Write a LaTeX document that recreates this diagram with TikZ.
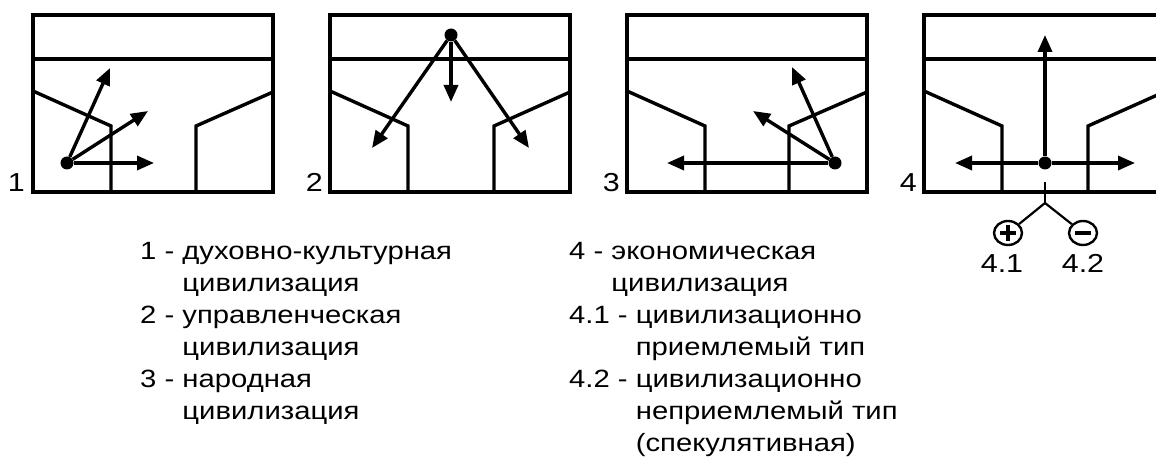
\documentclass[tikz,border=0pt]{standalone}
\usepackage{fontspec}
\setmainfont{Liberation Sans}[FakeStretch=1.17]
\usetikzlibrary{arrows.meta,shapes.geometric}

\begin{document}
\begin{tikzpicture}[x=1pt,y=-1pt,
  frame/.style={line width=3.4pt},
  vec/.style={line width=3.4pt,-{Triangle[length=17pt,width=14pt]}},
  dot/.style={circle,fill,inner sep=0pt,minimum size=13pt},
  num/.style={font=\fontsize{26}{30}\selectfont,inner sep=0pt,anchor=base east},
  sub/.style={font=\fontsize{26}{30}\selectfont,inner sep=0pt,anchor=base},
  entry/.style={font=\fontsize{25}{32}\selectfont,inner sep=0pt,anchor=base west},
  sign/.style={ellipse,draw,line width=2.4pt,minimum width=28pt,minimum height=24pt,inner sep=0pt}]

\fill[white] (0,0) rectangle (1156,457);
\clip (0,0) rectangle (1156,457);

% frame 1
\draw[frame] (33,15) rectangle (273,192);
\draw[frame] (33,59) -- (273,59);
\draw[frame] (33,91) -- (111,126) -- (111,192);
\draw[frame] (273,92) -- (196,126) -- (196,192);
% frame 2
\draw[frame] (330,15) rectangle (570,192);
\draw[frame] (330,59) -- (570,59);
\draw[frame] (330,91) -- (408,126) -- (408,192);
\draw[frame] (570,92) -- (494,126) -- (494,192);
% frame 3
\draw[frame] (627,15) rectangle (867,192);
\draw[frame] (627,59) -- (867,59);
\draw[frame] (627,91) -- (705,126) -- (705,192);
\draw[frame] (867,92) -- (789,126) -- (789,192);
% frame 4
\draw[frame] (924,15) rectangle (1164,192);
\draw[frame] (924,59) -- (1164,59);
\draw[frame] (924,91) -- (1002,126) -- (1002,192);
\draw[frame] (1164,92) -- (1088,126) -- (1088,192);

\node[num] (n1) at (25,192) {1};
\node[num] (n2) at (323,192) {2};
\node[num] (n3) at (620,192) {3};
\node[num] (n4) at (917,192) {4};

% 1
\node[dot] (d1) at (67,163) {};
\coordinate (t11) at (110,68);
\coordinate (t12) at (148,111);
\coordinate (t13) at (154,163);
\draw[vec] (d1) -- (t11);
\draw[vec] (d1) -- (t12);
\draw[vec] (d1) -- (t13);

% 2
\node[dot] (d2) at (451,35) {};
\coordinate (t21) at (372,148);
\coordinate (t22) at (451,102);
\coordinate (t23) at (529,148);
\draw[vec] (d2) -- (t21);
\draw[vec] (d2) -- (t22);
\draw[vec] (d2) -- (t23);

% 3
\node[dot] (d3) at (835,163) {};
\coordinate (t31) at (667,163);
\coordinate (t32) at (753,111);
\coordinate (t33) at (792,67);
\draw[vec] (d3) -- (t31);
\draw[vec] (d3) -- (t32);
\draw[vec] (d3) -- (t33);

% 4
\node[dot] (d4) at (1045,163) {};
\coordinate (t41) at (1045,35);
\coordinate (t42) at (955,163);
\coordinate (t43) at (1135,163);
\draw[vec] (d4) -- (t41);
\draw[vec] (d4) -- (t42);
\draw[vec] (d4) -- (t43);

\coordinate (stem) at (1045,182);
\coordinate (fork) at (1045,203);
\node[sign] (plus) at (1008,233) {};
\node[sign] (minus) at (1083,233) {};
\draw[line width=2.2pt] (stem) -- (fork);
\draw[line width=2.2pt] (fork) -- (plus);
\draw[line width=2.2pt] (fork) -- (minus);
\draw[line width=3.4pt] ([xshift=-8pt]plus.center) -- ([xshift=8pt]plus.center);
\draw[line width=3.4pt] ([yshift=-8pt]plus.center) -- ([yshift=8pt]plus.center);
\draw[line width=3.4pt] ([xshift=-8pt]minus.center) -- ([xshift=8pt]minus.center);
\node[sub] (l41) at (1002,272) {4.1};
\node[sub] (l42) at (1083,272) {4.2};

% legend
\node[entry] (e1) at (140,259) {\begin{tabular}[t]{@{}l@{}l@{}}
1 -~ & духовно-культурная\\ & цивилизация\\
2 -~ & управленческая\\ & цивилизация\\
3 -~ & народная\\ & цивилизация\end{tabular}};
\node[entry] (e4) at (569,259) {\begin{tabular}[t]{@{}l@{}l@{}}
4 -~ & экономическая\\ & цивилизация\end{tabular}};
\node[entry] (e41) at (569,323) {\begin{tabular}[t]{@{}l@{}l@{}}
4.1 -~ & цивилизационно\\ & приемлемый тип\end{tabular}};
\node[entry] (e42) at (569,387) {\begin{tabular}[t]{@{}l@{}l@{}}
4.2 -~ & цивилизационно\\ & неприемлемый тип\\ & (спекулятивная)\end{tabular}};
\end{tikzpicture}
\end{document}
